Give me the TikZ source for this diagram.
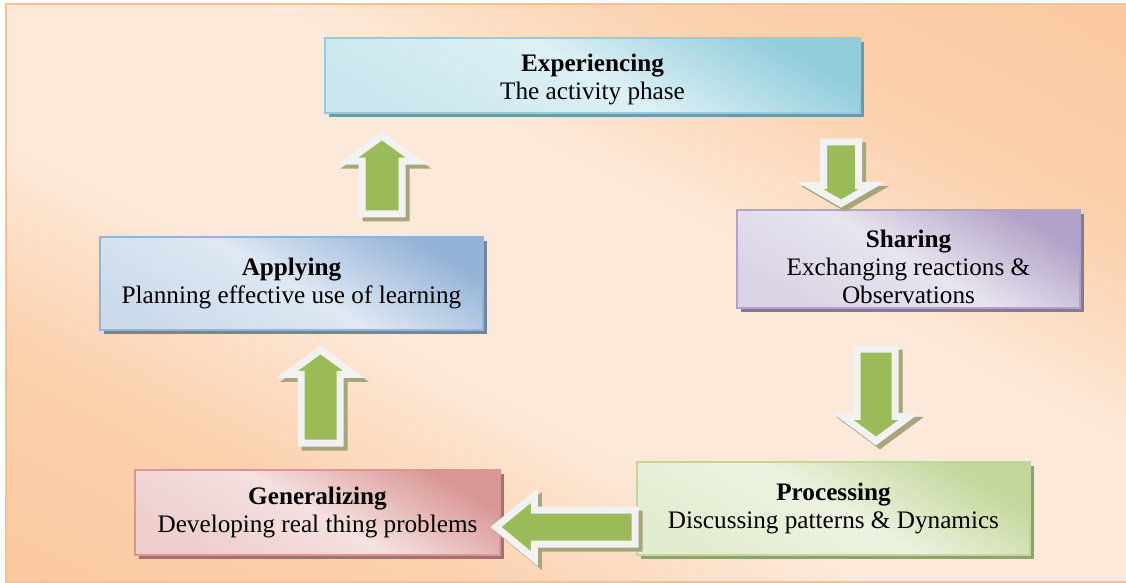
\documentclass[tikz,border=0pt]{standalone}
\usepackage{fontspec}
\setmainfont{Liberation Serif}
\usetikzlibrary{shapes.arrows,shadows}

\definecolor{bgdark}{HTML}{FAC090}
\definecolor{bglight}{HTML}{FDE9D9}
\definecolor{arrowgreen}{HTML}{9BBB59}
\definecolor{arrowrim}{HTML}{F2F2F2}
\definecolor{arrowshade}{HTML}{A6A57B}
% box colours: light / dark / rim
\definecolor{explight}{HTML}{DDF0F5}\definecolor{expdark}{HTML}{92CDDC}\definecolor{exprim}{HTML}{93CDDD}
\definecolor{shalight}{HTML}{E8E4EF}\definecolor{shadark}{HTML}{B2A2C7}\definecolor{sharim}{HTML}{B2A2C7}
\definecolor{prolight}{HTML}{EDF3E1}\definecolor{prodark}{HTML}{C3D69B}\definecolor{prorim}{HTML}{C3D69B}
\definecolor{genlight}{HTML}{F4E1E0}\definecolor{gendark}{HTML}{D99694}\definecolor{genrim}{HTML}{D99694}
\definecolor{applight}{HTML}{DFE8F3}\definecolor{appdark}{HTML}{95B3D7}\definecolor{apprim}{HTML}{95B3D7}

% peach backdrop: orange at two opposite corners, pale across the middle
\pgfdeclareverticalshading{peach}{100bp}{color(0bp)=(bgdark); color(30bp)=(bgdark!60!bglight);
    color(42bp)=(bglight); color(58bp)=(bglight); color(70bp)=(bgdark!60!bglight); color(100bp)=(bgdark)}

\begin{document}
\begin{tikzpicture}[
        x=0.5pt, y=-0.5pt,
        phase/.style = {rectangle, draw=#1rim, line width=1pt, align=center, inner sep=2pt,
                        font=\fontsize{12.6}{14}\selectfont,
                        top color=#1dark, bottom color=#1light!75!#1dark, middle color=#1light, shading angle=-30,
                        drop shadow={shadow xshift=2pt, shadow yshift=-2pt, fill=#1rim!75!black, opacity=1}},
        turn/.style = {single arrow, anchor=tail, draw=arrowrim, fill=arrowgreen, line width=3.5pt, inner xsep=0pt,
                       drop shadow={shadow xshift=2pt, shadow yshift=-2pt, fill=arrowshade, draw=arrowshade, opacity=1}}
    ]

    \useasboundingbox (0,0) rectangle (1126,583);
    \draw[draw=bgdark, line width=1pt, shading=peach, shading angle=-27.4]
        (5.5,4.5) rectangle (1130,582);

    % the five phases
    \node[phase=exp, minimum width=267.5pt, minimum height=37.5pt] (exp) at (592.5,75.5)
        {\textbf{Experiencing}\rule{0pt}{12.5pt}\\The activity phase};
    \node[phase=sha, minimum width=171.5pt, minimum height=49pt] (share) at (908.5,259)
        {\textbf{Sharing}\rule{0pt}{17pt}\\Exchanging reactions \&\\Observations};
    \node[phase=pro, minimum width=196.5pt, minimum height=46.5pt] (proc) at (833.5,508.5)
        {\textbf{Processing}\\Discussing patterns \& Dynamics};
    \node[phase=gen, minimum width=182.5pt, minimum height=42.5pt] (gen) at (317.5,512.5)
        {\textbf{Generalizing}\\Developing real thing problems};
    \node[phase=app, minimum width=191.5pt, minimum height=46.5pt] (app) at (291.5,283.5)
        {\textbf{Applying}\\Planning effective use of learning};

    % block arrows between the phases
    \node[turn, rotate=-90, inner ysep=7pt, single arrow head extend=6.75pt, single arrow tip angle=120,
          minimum height=30.75pt] (expToShare) at (841,138.5) {};
    \node[turn, rotate=-90, inner ysep=7.75pt, single arrow head extend=7.2pt, single arrow tip angle=107,
          minimum height=46pt] (shareToProc) at (876,345.5) {};
    \node[turn, rotate=180, inner ysep=6.75pt, single arrow head extend=7.3pt, single arrow tip angle=79,
          minimum height=69.5pt] (procToGen) at (638.5,527) {};
    \node[turn, rotate=90, inner ysep=8pt, single arrow head extend=7.1pt, single arrow tip angle=108,
          minimum height=46.5pt] (genToApp) at (320.5,446.5) {};
    \node[turn, rotate=90, inner ysep=8.25pt, single arrow head extend=7.35pt, single arrow tip angle=108,
          minimum height=39pt] (appToExp) at (382,217.5) {};
\end{tikzpicture}
\end{document}
